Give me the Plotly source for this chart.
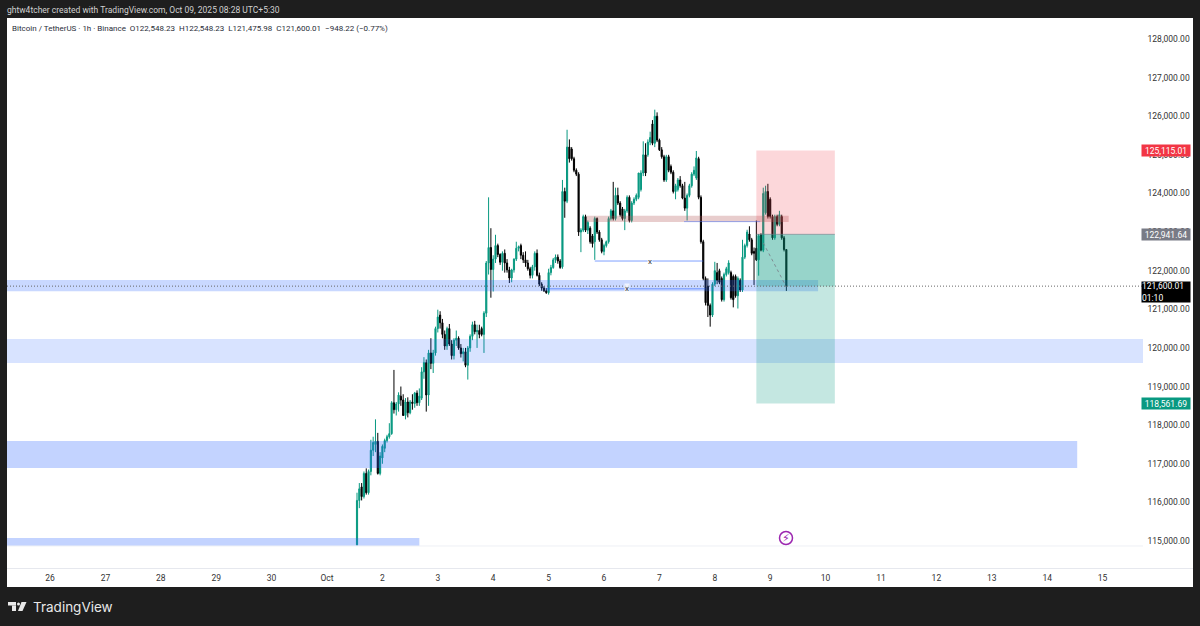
import pandas as pd
import plotly.graph_objects as go

# hourly BTCUSDT bars, last bar ends 2025-10-09 07:00
opens = [
    114900, 116050, 116400, 116150, 116750, 116250, 116800, 117350, 117500, 117580,
    116750, 117150, 117400, 117600, 117700, 117780, 118580, 118400, 118550, 118750,
    118650, 118250, 118600, 118320, 118600, 118560, 118830, 118580, 118700, 119380,
    119620, 118780, 119870, 119600, 119870, 120500, 120850, 120650, 120350, 120050,
    120500, 120100, 119800, 120200, 120250, 120000, 119850, 119900, 119550, 120000,
    120300, 120600, 120420, 120450, 120500, 120350, 120900, 122200, 122600, 122030,
    122300, 122650, 122420, 122220, 122450, 122200, 122020, 121810, 122020, 122300,
    122580, 122650, 122400, 122280, 122200, 122050, 121880, 122100, 122450, 121880,
    121650, 121550, 121480, 121430, 121950, 122080, 122280, 122350, 122250, 122100,
    124050, 123800, 125200, 125150, 124900, 124600, 124500, 123000, 123050, 123400,
    123050, 123100, 122900, 122750, 123350, 123000, 122800, 122500, 122650, 122750,
    123350, 123550, 123350, 123950, 123750, 123600, 123350, 123550, 123900, 123300,
    123750, 123850, 123900, 124100, 124530, 125000, 125000, 125330, 125800, 125300,
    126000, 125380, 125130, 124950, 124350, 124950, 124700, 124550, 124050, 124100,
    124350, 124200, 123880, 123620, 123950, 124200, 124500, 124400, 124900, 123900,
    122750, 121800, 121600, 121100, 120850, 121650, 121950, 122000, 121800, 121250,
    121900, 121950, 121950, 121850, 121850, 121350, 121750, 121500, 122350, 122650,
    122950, 122800, 122500, 122580, 122280, 122930, 122530, 123500, 124050, 123850,
    123400, 122850, 123400, 123200, 123400, 122850, 122548.23,
]
highs = [
    116250, 116500, 116500, 116800, 116880, 116850, 117620, 117700, 118150, 117800,
    117300, 117500, 117650, 117750, 118050, 118620, 119430, 118600, 118850, 119000,
    118800, 118700, 118720, 118650, 118800, 118860, 118900, 118950, 119500, 119760,
    119700, 119950, 120250, 119950, 120550, 120990, 120950, 120750, 120450, 120550,
    120620, 120200, 120250, 120450, 120300, 120100, 120000, 120000, 120050, 120350,
    120680, 120700, 120600, 120600, 120550, 120950, 122250, 123900, 123100, 122400,
    122930, 122700, 122450, 122500, 122550, 122300, 122100, 122050, 122320, 122750,
    122650, 122700, 122480, 122500, 122280, 122100, 122150, 122500, 122550, 121950,
    121700, 121600, 121550, 122050, 122150, 122330, 122420, 122420, 122300, 124350,
    124150, 125650, 125400, 125200, 124950, 124650, 124550, 123100, 123450, 123450,
    123300, 123150, 122950, 123400, 123380, 123050, 122850, 122700, 122780, 123400,
    123600, 124300, 124150, 124150, 123800, 123650, 123600, 123950, 123950, 123800,
    123900, 124000, 124530, 124600, 125350, 125300, 125400, 125600, 125900, 126170,
    126100, 125420, 125200, 125000, 125000, 125000, 124750, 124600, 124250, 124400,
    124450, 124250, 124300, 124000, 124250, 124550, 124700, 125100, 124950, 123950,
    122800, 121850, 121800, 121150, 121700, 122230, 122200, 122050, 121850, 121950,
    122100, 122270, 122000, 121900, 121900, 121850, 121800, 122800, 122700, 123060,
    123150, 122850, 122600, 123300, 122950, 122970, 124150, 124200, 124250, 123900,
    123450, 123450, 123450, 123550, 123450, 122900, 122548.23,
]
lows = [
    114880, 115850, 116050, 116100, 116200, 116200, 116700, 117200, 117300, 116720,
    116700, 117000, 117300, 117550, 117650, 117750, 118300, 118250, 118350, 118500,
    118300, 118150, 118200, 118280, 118400, 118450, 118500, 118500, 118650, 119200,
    118350, 118500, 119450, 119350, 119800, 120400, 120500, 120250, 119950, 119950,
    120050, 119700, 119700, 120050, 119950, 119750, 119650, 119500, 119180, 119900,
    120200, 120350, 120000, 120250, 120300, 119870, 120800, 121900, 121300, 121460,
    122200, 122350, 122150, 122000, 121950, 121950, 121680, 121700, 121950, 122250,
    122500, 122300, 122200, 122100, 122000, 121800, 121800, 122000, 121850, 121600,
    121480, 121450, 121400, 121380, 121880, 122050, 122200, 122180, 122050, 122050,
    123370, 123750, 124800, 124850, 124550, 124450, 122900, 122480, 123000, 123000,
    122950, 122700, 122600, 122280, 122950, 122750, 122450, 122400, 122600, 122700,
    123300, 123300, 123300, 123700, 123400, 123300, 123050, 123500, 123250, 123250,
    123700, 123800, 123850, 124050, 124450, 124450, 124950, 125250, 125250, 125200,
    125330, 125100, 124900, 124300, 124300, 124550, 124500, 124000, 123850, 124050,
    124150, 123850, 123550, 123300, 123900, 124150, 124450, 124350, 123850, 122700,
    121750, 121100, 120800, 120550, 120800, 121600, 121650, 121650, 121200, 121200,
    121850, 121900, 121250, 121050, 121300, 121020, 121450, 121450, 122300, 122600,
    122750, 122400, 121630, 122250, 121870, 122500, 122480, 123450, 123350, 123350,
    122800, 122800, 123150, 123150, 122800, 122500, 121475.98,
]
closes = [
    116050, 116350, 116150, 116750, 116250, 116800, 117350, 117550, 117580, 116750,
    117200, 117450, 117600, 117700, 117780, 118580, 118400, 118550, 118780, 118650,
    118250, 118600, 118320, 118600, 118560, 118830, 118580, 118750, 119380, 119620,
    118780, 119870, 119600, 119870, 120500, 120800, 120650, 120350, 120050, 120500,
    120100, 119800, 120200, 120250, 120000, 119850, 119900, 119550, 120000, 120300,
    120600, 120420, 120450, 120350, 120350, 120900, 122200, 122600, 122030, 122300,
    122650, 122420, 122220, 122450, 122200, 122020, 121810, 122020, 122300, 122580,
    122620, 122400, 122280, 122200, 122050, 121880, 122100, 122450, 121880, 121650,
    121550, 121480, 121430, 121950, 122080, 122280, 122350, 122250, 122080, 124050,
    123800, 125200, 124900, 124900, 124600, 124500, 123000, 123050, 123400, 123050,
    123250, 122750, 122700, 123350, 123000, 122800, 122500, 122650, 122750, 123350,
    123550, 123350, 123950, 123750, 123450, 123350, 123550, 123900, 123300, 123750,
    123850, 123950, 124530, 124530, 125000, 124530, 125330, 125450, 125300, 126000,
    125380, 125130, 124950, 124350, 124950, 124600, 124550, 124050, 124200, 124350,
    124200, 123880, 123620, 123950, 124200, 124500, 124600, 124920, 123900, 122750,
    121800, 121170, 121100, 120850, 121650, 122000, 121750, 121700, 121250, 121900,
    122050, 122200, 121300, 121250, 121350, 121800, 121500, 122350, 122650, 123000,
    122800, 122450, 122450, 122280, 122900, 122530, 124000, 124050, 123400, 123400,
    122850, 123400, 123200, 123450, 122850, 122548.23, 121600.01,
]
times = pd.date_range(end="2025-10-09 07:00", periods=len(closes), freq="h")

price_ticks = [115000, 116000, 117000, 118000, 119000, 120000, 121000, 122000,
               123000, 124000, 125000, 126000, 127000, 128000]
day_ticks = ["2025-09-26", "2025-09-27", "2025-09-28", "2025-09-29", "2025-09-30",
             "2025-10-01", "2025-10-02", "2025-10-03", "2025-10-04", "2025-10-05",
             "2025-10-06", "2025-10-07", "2025-10-08", "2025-10-09", "2025-10-10",
             "2025-10-11", "2025-10-12", "2025-10-13", "2025-10-14", "2025-10-15"]
day_labels = ["26", "27", "28", "29", "30", "Oct", "2", "3", "4", "5", "6", "7", "8",
              "9", "10", "11", "12", "13", "14", "15"]

stop_price = 125115.01
entry_price = 122941.64
last_price = 121600.01
target_price = 118561.69

x_start = "2025-09-25 05:22"
x_end = "2025-10-16 15:10"
scale_end = "2025-10-15 17:30"
box_start = "2025-10-08 18:00"
box_end = "2025-10-10 04:00"

BLUE = "rgba(41,98,255,"
LOGO = "#e8e8e8"
fig = go.Figure()

fig.add_trace(go.Candlestick(
    x=times, open=opens, high=highs, low=lows, close=closes,
    increasing=dict(line=dict(color="#089981", width=1), fillcolor="#089981"),
    decreasing=dict(line=dict(color="#000000", width=1), fillcolor="#000000"),
    whiskerwidth=0, hoverinfo="skip", showlegend=False,
))


def px_x(x):
    return (x - 7) / 1186


def px_y(y):
    return (568 - y) / 550


def zone(x0, x1, top, bottom, color):
    fig.add_shape(type="rect", x0=x0, x1=x1, y0=bottom, y1=top,
                  fillcolor=color, line_width=0, layer="above")


def hline(x0, x1, y, color, width=1, dash="solid"):
    fig.add_shape(type="line", x0=x0, x1=x1, y0=y, y1=y,
                  line=dict(color=color, width=width, dash=dash), layer="above")


def page_text(x, y, text, family, size, color):
    fig.add_annotation(xref="paper", yref="paper", x=px_x(x), y=px_y(y), xanchor="left", yanchor="middle",
                       text=text, showarrow=False, font=dict(family=family, size=size, color=color))


# white chart pane on the dark frame
fig.add_shape(type="rect", xref="paper", yref="paper", x0=0, x1=1, y0=-0.0345, y1=1,
              fillcolor="white", line_width=0, layer="below")

# support / resistance zones
zone(x_start, "2025-10-09 20:45", 121760, 121470, BLUE + "0.25)")
zone(x_start, scale_end, 120230, 119610, BLUE + "0.18)")
zone(x_start, "2025-10-14 13:00", 117590, 116890, BLUE + "0.28)")
zone(x_start, "2025-10-02 16:00", 115080, 114870, BLUE + "0.28)")
zone("2025-10-05 16:30", "2025-10-09 08:00", 123420, 123260, "rgba(178,90,90,0.3)")

# long/short position box, darker part runs down to the last price
zone(box_start, box_end, stop_price, entry_price, "rgba(242,54,69,0.2)")
zone(box_start, box_end, entry_price, target_price, "rgba(8,153,129,0.24)")
zone(box_start, box_end, entry_price, last_price, "rgba(8,153,129,0.24)")
hline(box_start, box_end, entry_price, "rgba(120,123,134,0.6)")
fig.add_shape(type="line", x0="2025-10-08 21:00", x1="2025-10-09 07:00", y0=122720, y1=121580,
              line=dict(color="rgba(120,123,134,0.8)", width=1, dash="3px,3px"), layer="above")

# swept levels
hline("2025-10-07 10:40", "2025-10-08 19:40", 123270, "rgba(41,98,255,0.45)")
hline("2025-10-05 20:00", "2025-10-07 19:00", 122250, "rgba(41,98,255,0.6)")
hline("2025-10-04 23:00", "2025-10-07 20:00", 121530, "rgba(41,98,255,0.6)")
hline(x_start, scale_end, last_price, "#666666", dash="1px,2px")
hline(x_start, scale_end, 114870, "#eef0f5")

for when, level in [("2025-10-06 20:00", 122250), ("2025-10-06 10:00", 121530)]:
    fig.add_annotation(x=when, y=level, text="x", showarrow=False, bgcolor="rgba(255,255,255,0.7)",
                       font=dict(family="Roboto", size=8, color="#333333"), borderpad=0)

# price badges
badges = [(stop_price, "125,115.01", "#f23645"),
          (entry_price, "122,941.64", "#787b86"),
          (target_price, "118,561.69", "#089981")]
for level, label, color in badges:
    fig.add_annotation(xref="paper", x=px_x(1191), xanchor="right", y=level, yanchor="middle", text=label,
                       showarrow=False, bgcolor=color, width=48, height=11, borderpad=0,
                       font=dict(family="Roboto", size=8.5, color="white"))
fig.add_annotation(xref="paper", x=px_x(1191), xanchor="right", y=last_price, yanchor="top", yshift=5,
                   text="121,600.01<br>01:10", showarrow=False, bgcolor="#000000", width=48, height=20,
                   borderpad=0, align="left", font=dict(family="Roboto", size=8.5, color="white"))

# alert icon
fig.add_shape(type="circle", xref="paper", yref="paper",
              x0=px_x(779.5), x1=px_x(792.5), y0=px_y(544.5), y1=px_y(531.5),
              line=dict(color="#9c27b0", width=1.5), layer="above")
fig.add_annotation(xref="paper", yref="paper", x=px_x(786), y=px_y(538), yanchor="middle", xanchor="center",
                   text="⚡", showarrow=False, font=dict(family="DejaVu Sans", size=11, color="#9c27b0"))

# header, legend line and logo
page_text(5, 10, "ghtw4tcher created with TradingView.com, Oct 09, 2025 08:28 UTC+5:30",
          "Roboto", 8.5, "#d1d1d1")
page_text(10, 28, "Bitcoin / TetherUS · 1h · Binance  O122,548.23  H122,548.23  "
                  "L121,475.98  C121,600.01  −948.22 (−0.77%)", "Roboto", 8, "#2a2e39")
page_text(30.5, 606.5, "TradingView", "Inter", 13.5, LOGO)
fig.add_shape(type="rect", xref="paper", yref="paper", x0=px_x(8), x1=px_x(16), y0=px_y(605.5), y1=px_y(602),
              fillcolor=LOGO, line_width=0)
fig.add_shape(type="rect", xref="paper", yref="paper", x0=px_x(12), x1=px_x(16), y0=px_y(611), y1=px_y(605.5),
              fillcolor=LOGO, line_width=0)
fig.add_shape(type="circle", xref="paper", yref="paper", x0=px_x(17), x1=px_x(20), y0=px_y(605.5), y1=px_y(602.5),
              fillcolor=LOGO, line_width=0)
fig.add_shape(type="path", xref="paper", yref="paper",
              path=f"M {px_x(21.5)} {px_y(602)} L {px_x(26.5)} {px_y(602)} "
                   f"L {px_x(22.5)} {px_y(611)} L {px_x(18)} {px_y(611)} Z",
              fillcolor=LOGO, line_width=0)

fig.update_layout(
    width=1200, height=626,
    margin=dict(l=7, r=7, t=18, b=58),
    paper_bgcolor="#1e1e1e", plot_bgcolor="rgba(0,0,0,0)",
    showlegend=False,
    xaxis=dict(type="date", range=[x_start, x_end], rangeslider=dict(visible=False),
               tickmode="array", tickvals=day_ticks, ticktext=day_labels,
               showgrid=False, zeroline=False, showline=True, linecolor="#e6e8ee", linewidth=1,
               ticks="outside", ticklen=2, tickcolor="rgba(0,0,0,0)",
               tickfont=dict(family="Roboto", size=8.5, color="#333333")),
    yaxis=dict(range=[114300, 128544], side="right", tickmode="array", tickvals=price_ticks,
               tickformat=",.2f", ticklabelposition="inside", showgrid=False, zeroline=False,
               showline=False, ticks="inside", ticklen=2, tickcolor="rgba(0,0,0,0)",
               tickfont=dict(family="Roboto", size=8.5, color="#333333")),
)

# the browser's default body margin would push the page 8px off
fig.write_html("out.html", config={"displayModeBar": False},
               post_script="document.body.style.margin = '0';")
